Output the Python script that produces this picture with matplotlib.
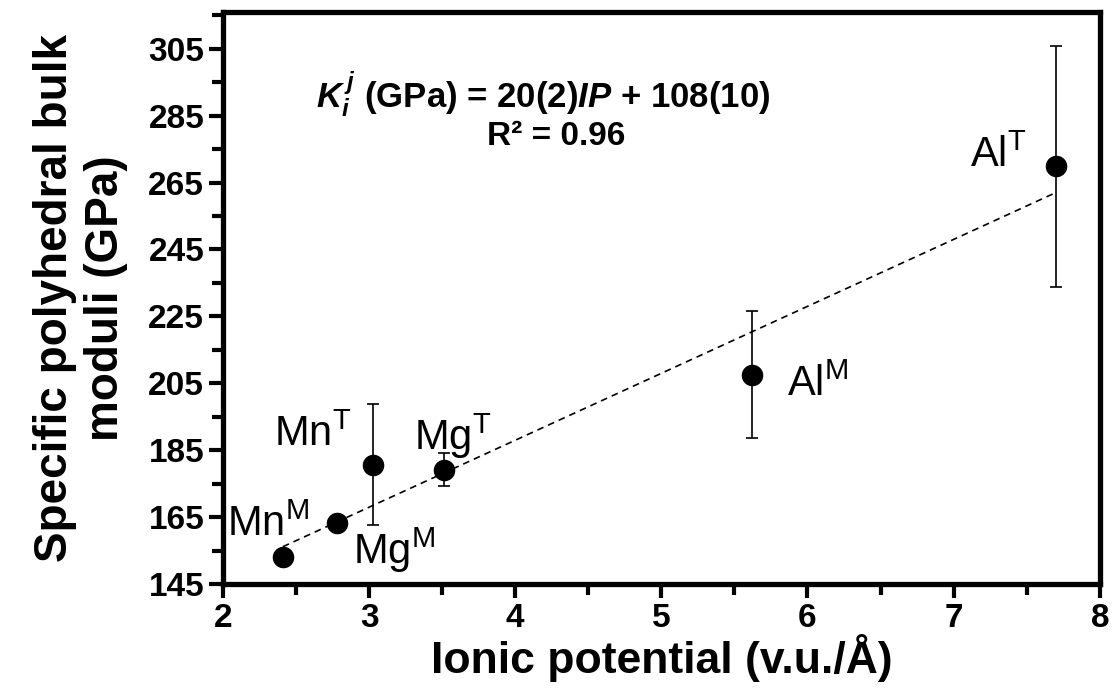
import numpy as np
import matplotlib.pyplot as plt
from matplotlib.ticker import MultipleLocator, FixedLocator

plt.rcParams['font.family'] = 'Liberation Sans'
plt.rcParams['mathtext.fontset'] = 'custom'
plt.rcParams['mathtext.rm'] = 'Liberation Sans:bold'
plt.rcParams['mathtext.it'] = 'Liberation Sans:bold:italic'
plt.rcParams['mathtext.sf'] = 'Liberation Sans'

# ionic potential (v.u./A) and specific polyhedral bulk moduli (GPa)
sites = ['Mn^M', 'Mg^M', 'Mn^T', 'Mg^T', 'Al^M', 'Al^T']
ip = [2.41, 2.78, 3.03, 3.51, 5.62, 7.70]
k_poly = [153.2, 163.2, 180.7, 179.2, 207.6, 269.9]
k_err = [0, 0, 18, 5, 19, 36]

# linear fit reported on the plot
slope = 20
intercept = 108

fig = plt.figure(figsize=(11.12, 6.93), dpi=100)
ax = fig.add_axes([0.2005, 0.157, 0.7885, 0.826])

ax.errorbar(ip, k_poly, yerr=k_err, fmt='o', color='black', ms=14.5,
            ecolor='black', elinewidth=1.2, capsize=4.5, capthick=1.2, zorder=3)

xfit = np.array([min(ip), max(ip)])
ax.plot(xfit, slope * xfit + intercept, '--', color='black', lw=1.2, dashes=(4, 3))

# label offsets from each point
offsets = [(-0.38, 9.5), (0.11, -8), (-0.68, 9), (-0.2, 10), (0.24, -3), (-0.59, 3)]
for name, x, y, (dx, dy) in zip(sites, ip, k_poly, offsets):
    base, sup = name.split('^')
    ax.text(x + dx, y + dy, r'$\mathsf{%s^{%s}}$' % (base, sup), fontsize=30,
            ha='left', va='center')

ax.text(4.19, 287.5, r'$K_i^{\,j}$ (GPa) = 20(2)$IP$ + 108(10)', fontsize=25,
        fontweight='bold', ha='center', va='baseline')
ax.text(4.28, 276.2, 'R² = 0.96', fontsize=24, fontweight='bold', ha='center',
        va='baseline')

ax.set_xlim(2, 8)
ax.set_ylim(145, 316)
ax.set_yticks(np.arange(145, 306, 20))
ax.xaxis.set_minor_locator(MultipleLocator(0.5))
ax.yaxis.set_minor_locator(FixedLocator(np.arange(155, 316, 20)))

for s in ax.spines.values():
    s.set_linewidth(3.8)
ax.tick_params(which='both', direction='out', width=3, labelsize=24)
ax.tick_params(which='major', length=10)
ax.tick_params(which='minor', length=8)
for lab in ax.get_xticklabels() + ax.get_yticklabels():
    lab.set_fontweight('bold')

ax.set_xlabel('Ionic potential (v.u./Å)', fontsize=32, fontweight='bold', labelpad=0)
ax.set_ylabel('Specific polyhedral bulk\nmoduli (GPa)', fontsize=33, fontweight='bold',
              linespacing=1.2)
ax.yaxis.set_label_coords(-0.108, 0.5)

fig.savefig('out.png', dpi=100)
